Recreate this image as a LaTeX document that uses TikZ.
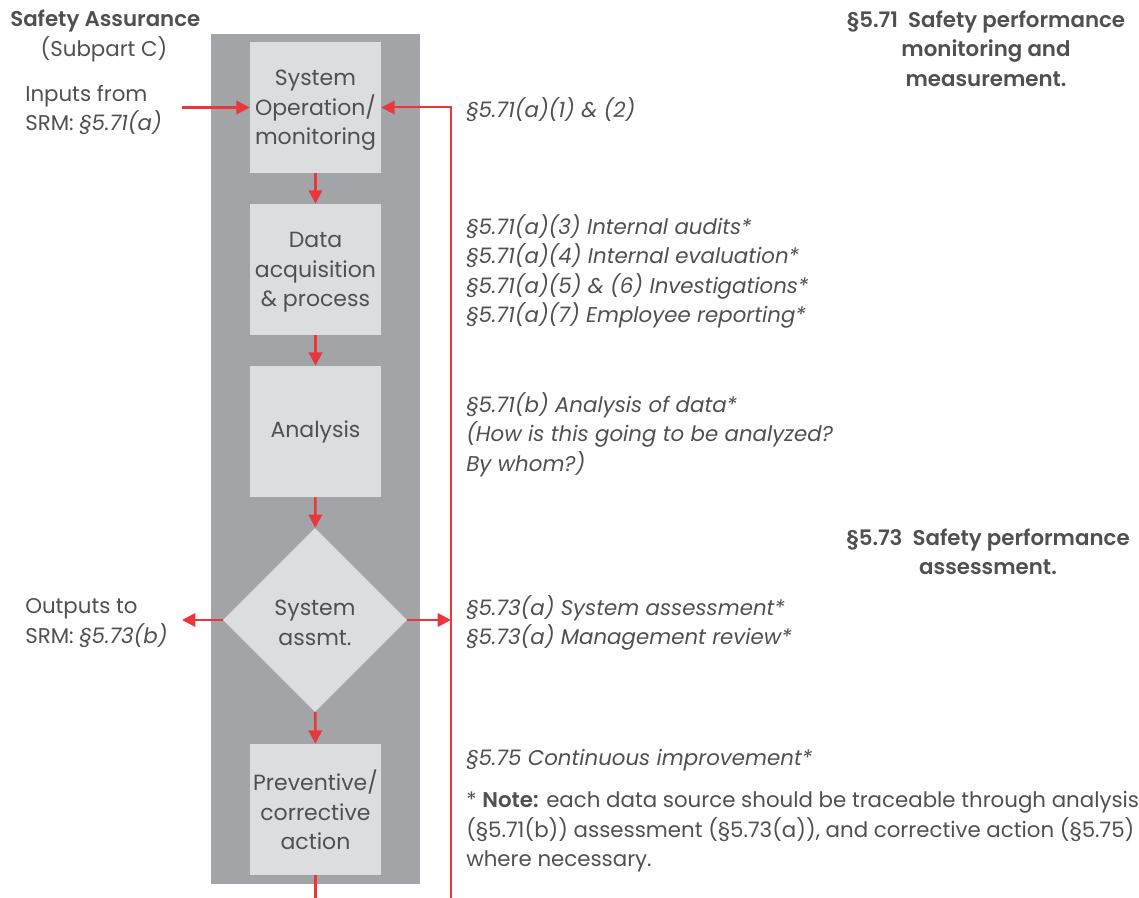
\documentclass[tikz,border=0pt]{standalone}
\usepackage{fontspec}
\setmainfont{Poppins}[BoldFont={Poppins SemiBold}]
\usetikzlibrary{arrows.meta,shapes.geometric}
\definecolor{srmred}{HTML}{E8383D}
\definecolor{colgray}{HTML}{A3A4A8}
\definecolor{boxgray}{HTML}{DCDDDF}
\definecolor{txt}{HTML}{505052}
\newcommand{\fsz}{\fontsize{16pt}{22.1pt}\selectfont}
\newcommand{\bsz}{\fontsize{16.5pt}{22.1pt}\selectfont}
\tikzset{
  px/.style={x=0.75pt,y=-0.75pt},
  stepbox/.style={fill=boxgray,draw=none,minimum width=98.25pt,minimum height=98.25pt,
    inner sep=0pt,align=center,text=txt,font=\bsz},
  decision/.style={diamond,fill=boxgray,draw=none,minimum width=138pt,minimum height=138pt,
    inner sep=0pt,align=center,text=txt,font=\bsz},
  flow/.style={draw=srmred,line width=1.9pt,-{Triangle[length=10pt,width=10pt]}},
  loopline/.style={draw=srmred,line width=1.5pt},
  lefttext/.style={anchor=west,text=txt,font=\fsz,align=left,inner sep=0pt},
  heading/.style={text=txt,font=\fsz\bfseries,align=center,inner sep=0pt},
}
\begin{document}
\begin{tikzpicture}[px]
\useasboundingbox (0,0) rectangle (1139,898);
% column background
\fill[colgray] (211,34) rectangle (420,884);
% process steps
\node[stepbox] (op) at (315.5,107.5) {\\[-6pt]System\\Operation/\\monitoring};
\node[stepbox] (data) at (315.5,269.5) {\\[-6pt]Data\\acquisition\\\&{} process};
\node[stepbox] (ana) at (315.5,431.5) {\raisebox{-3pt}{Analysis}};
\node[decision] (assess) at (315,620) {\\[-6pt]System\\assmt.};
\node[stepbox] (act) at (315.5,809.5) {\\[-6pt]Preventive/\\corrective\\action};
% connectors
\coordinate (inp) at (182,107.5);
\coordinate (outp) at (182,620);
\coordinate (loopbot) at (451,898);
\coordinate (loopmid) at (451,620);
\coordinate (stub) at (315.5,898);
\draw[flow] (op) -- (data);
\draw[flow] (data) -- (ana);
\draw[flow] (ana) -- (assess);
\draw[flow] (assess) -- (act);
\draw[flow] (inp) -- (op);
\draw[flow] (assess) -- (outp);
\draw[flow] (assess.east) -- (loopmid);
\draw[draw=srmred,line width=1.9pt] (act) -- (stub);
\draw[loopline,-{Triangle[length=10pt,width=10pt]}] (loopbot) |- (op.east);
% left labels
\node[heading,anchor=west] (title) at (10,20.5) {Safety Assurance};
\node[text=txt,font=\fsz,inner sep=0pt] (sub) at (104,49.5) {(Subpart C)};
\node[lefttext] (inlab) at (25,110) {Inputs from\\SRM: \textit{§5.71(a)}};
\node[lefttext] (outlab) at (25,623) {Outputs to\\SRM: \textit{§5.73(b)}};
% right labels
\node[lefttext] (r1) at (466,109.5) {\textit{§5.71(a)(1) \& (2)}};
\node[lefttext] (r2) at (466,271.5) {\textit{§5.71(a)(3) Internal audits*}\\\textit{§5.71(a)(4) Internal evaluation*}\\\textit{§5.71(a)(5) \& (6) Investigations*}\\\textit{§5.71(a)(7) Employee reporting*}};
\node[lefttext] (r3) at (466,434.5) {\textit{§5.71(b) Analysis of data*}\\\textit{(How is this going to be analyzed?}\\\textit{By whom?)}};
\node[lefttext] (r4) at (466,623) {\textit{§5.73(a) System assessment*}\\\textit{§5.73(a) Management review*}};
\node[lefttext] (r5) at (466,760.5) {\textit{§5.75 Continuous improvement*}};
\node[lefttext] (note) at (466,832) {* \textbf{Note:} each data source should be traceable through analysis\\(§5.71(b)) assessment (§5.73(a)), and corrective action (§5.75)\\where necessary.};
% section headings
\node[heading] (h71) at (986,48.5) {§5.71\ \ Safety performance\\monitoring and\\measurement.};
\node[heading] (h73) at (988,552) {§5.73\ \ Safety performance\\assessment.};
\end{tikzpicture}
\end{document}
